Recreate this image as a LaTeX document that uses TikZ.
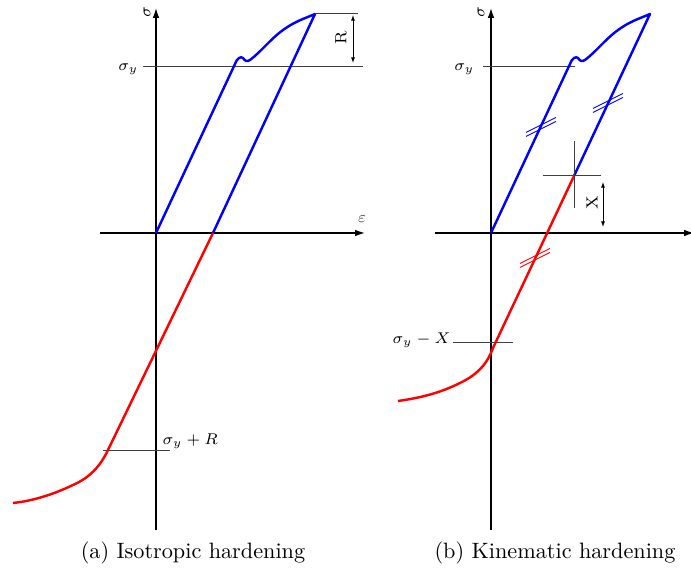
\documentclass[tikz,border=0pt]{standalone}
\usetikzlibrary{arrows.meta}
\begin{document}
\begin{tikzpicture}[x=0.45pt,y=-0.45pt,
  axis/.style={line width=0.6pt,-{Latex[length=4.5pt,width=3pt]}},
  curveb/.style={blue,line width=1.1pt,line join=round},
  curver/.style={red,line width=1.1pt,line join=round},
  guide/.style={black!75,line width=0.45pt},
  dimline/.style={line width=0.4pt,{Latex[length=2.5pt,width=1.8pt]}-{Latex[length=2.5pt,width=1.8pt]}},
  lab/.style={font=\fontsize{7.3}{9}\selectfont,inner sep=1pt},
  axlab/.style={font=\scriptsize,inner sep=1pt},
  hm/.pic={\draw (-15,9.5) -- (15,-5.5); \draw (-15,5.5) -- (15,-9.5);}]
\useasboundingbox (0,0) rectangle (691,574);

% ---------- left panel ----------
\coordinate (O1) at (156,233);
\coordinate (xa1s) at (100,233);
\coordinate (xa1e) at (365,233);
\coordinate (ya1s) at (156,530);
\coordinate (ya1e) at (156,8);
\draw[axis] (xa1s) -- (xa1e);
\draw[axis] (ya1s) -- (ya1e);
\node[axlab,rotate=90] (sig1) at (147,12) {$\sigma$};
\node[axlab,text=black!70] (eps1) at (362,219) {$\varepsilon$};

\coordinate (sy1a) at (143,67);
\coordinate (sy1b) at (363,67);
\draw[guide] (sy1a) -- (sy1b);
\node[lab,anchor=east] (sy1) at (141,69) {$\sigma_y$};

\coordinate (top1) at (315,14);
\coordinate (unl1) at (213,233);
\draw[curveb] (O1) -- (235,64) .. controls (237,58) and (241,56) .. (243,58)
  .. controls (245,61) and (247,62) .. (250,60)
  .. controls (262,51) and (272,37) .. (286,28)
  .. controls (296,21) and (306,18) .. (top1) -- (unl1);
\draw[curver] (unl1) -- (108,450) .. controls (100,467) and (89,478) .. (73,485)
  .. controls (52,495) and (32,501) .. (13,503);

\coordinate (rt) at (358,14);
\draw[guide] (top1) -- (rt);
\coordinate (ra) at (353,15);
\coordinate (rb) at (353,63);
\draw[dimline] (ra) -- (rb);
\node[lab,rotate=90] (Rl) at (341,38) {R};

\coordinate (sr1a) at (103,451);
\coordinate (sr1b) at (170,451);
\draw[guide] (sr1a) -- (sr1b);
\node[lab,anchor=west] (syR) at (160,441) {$\sigma_y+R$};

\node (capa) at (193,553) {(a) Isotropic hardening};

% ---------- right panel ----------
\coordinate (O2) at (491,233);
\coordinate (xa2s) at (435,233);
\coordinate (xa2e) at (694,233);
\coordinate (ya2s) at (491,530);
\coordinate (ya2e) at (491,8);
\draw[axis] (xa2s) -- (xa2e);
\draw[axis] (ya2s) -- (ya2e);
\node[axlab,rotate=90] (sig2) at (481,12) {$\sigma$};

\coordinate (sy2a) at (483,67);
\coordinate (sy2b) at (575,67);
\draw[guide] (sy2a) -- (sy2b);
\node[lab,anchor=east] (sy2) at (477,69) {$\sigma_y$};

\coordinate (top2) at (650,14);
\coordinate (P2) at (574,176);
\draw[curveb] (O2) -- (570,64) .. controls (572,58) and (576,56) .. (578,58)
  .. controls (580,61) and (582,62) .. (585,60)
  .. controls (597,51) and (607,37) .. (621,28)
  .. controls (631,21) and (641,18) .. (top2) -- (P2);
\draw[curver] (P2) -- (493,348) .. controls (488,362) and (479,374) .. (460,383)
  .. controls (440,393) and (420,398) .. (398,401);

\coordinate (ch1) at (543,176);
\coordinate (ch2) at (601,176);
\coordinate (cv1) at (574,141);
\coordinate (cv2) at (574,208);
\draw[guide] (ch1) -- (ch2);
\draw[guide] (cv1) -- (cv2);
\coordinate (xa) at (603,182);
\coordinate (xb) at (603,227);
\draw[dimline] (xa) -- (xb);
\node[lab,rotate=90] (Xl) at (592,203) {X};

\coordinate (sx1) at (453,343);
\coordinate (sx2) at (513,343);
\draw[guide] (sx1) -- (sx2);
\node[lab,anchor=east] (syX) at (453,340) {$\sigma_y-X$};

\pic[blue,line width=0.4pt] at (541,127) {hm};
\pic[blue,line width=0.4pt] at (608,103) {hm};
\pic[red,line width=0.4pt] at (535,258) {hm};

\node (capb) at (555,553) {(b) Kinematic hardening};
\end{tikzpicture}
\end{document}
